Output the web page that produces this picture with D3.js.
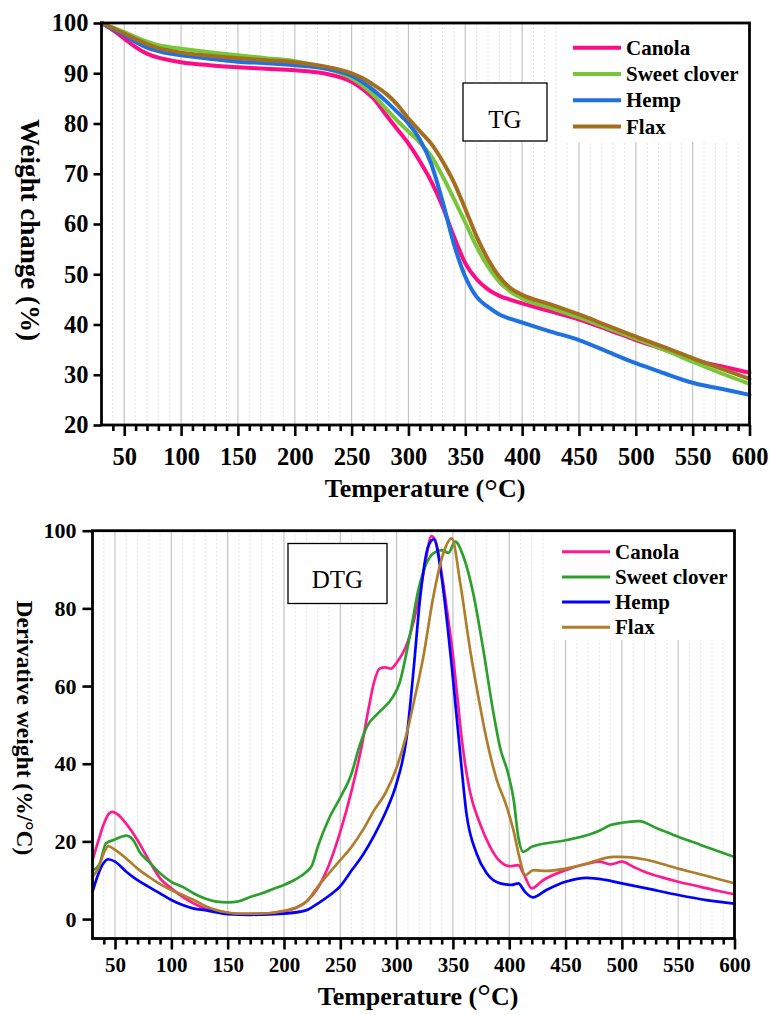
<!DOCTYPE html>
<html><head><meta charset="utf-8">
<script src="https://cdn.jsdelivr.net/npm/d3@7"></script>
<style>body{margin:0;background:#fff}svg{display:block}</style>
</head><body>
<script>
// ---------- DATA ----------
const seriesNames = ["Canola", "Sweet clover", "Hemp", "Flax"];
const xMajorTicks = [50,100,150,200,250,300,350,400,450,500,550,600];
const tgYTicks = [20,30,40,50,60,70,80,90,100];
const dtgYTicks = [0,20,40,60,80,100];

// TG (weight change %) — common temperature grid
const tgTemps = [30,40,50,60,70,80,90,100,125,150,175,200,225,250,260,270,280,290,300,310,320,330,340,350,360,370,380,390,400,425,450,475,500,525,550,575,600];
const tgCanola = [100,98.6,96.9,95.2,93.9,93.1,92.6,92.2,91.6,91.2,90.9,90.6,90.0,88.3,86.8,84.8,81.8,78.9,76.0,72.5,68.5,63.5,57.5,52.2,49.0,47.0,45.7,44.9,44.2,42.6,41.0,39.0,36.9,35.0,33.0,31.7,30.4];
const tgSweetClover = [100,99.1,98.2,97.2,96.3,95.6,95.2,94.9,94.2,93.6,93.0,92.4,91.2,89.0,87.5,85.5,83.0,80.6,78.4,76.2,73.5,69.5,65.0,60.3,55.5,51.5,48.5,46.5,45.2,43.3,41.4,39.3,37.2,35.0,32.6,30.3,28.2];
const tgHemp = [100,98.8,97.6,96.2,95.1,94.4,93.9,93.6,92.9,92.3,92.0,91.6,91.0,89.5,88.2,86.5,84.5,82.3,80.0,76.8,72.0,64.5,56.0,49.5,45.5,43.5,42.0,41.1,40.4,38.6,36.9,34.6,32.3,30.3,28.4,27.2,26.0];
const tgFlax = [100,99.0,97.9,96.8,95.8,95.0,94.5,94.1,93.5,93.0,92.6,92.2,91.4,90.0,89.0,87.6,86.0,83.8,81.0,78.5,76.0,72.5,68.3,63.0,57.5,53.0,49.5,47.2,45.9,44.0,42.0,39.8,37.6,35.5,33.3,31.2,29.2];

// DTG (derivative weight %/°C) — [temperature, value]
const dtgCanola = [[30,15.2],[35,20],[40,24.5],[45,27.3],[48,27.6],[52,27],[60,24.5],[70,20.3],[80,15.2],[90,10.5],[100,7.9],[110,5.7],[120,4],[130,2.7],[140,2],[150,1.6],[160,1.3],[180,1.4],[200,2],[210,2.8],[220,4.5],[230,8],[240,14],[250,22.5],[260,33],[270,46],[275,54],[280,61],[285,64.5],[290,64.8],[295,64.5],[300,66],[310,71.5],[320,83],[325,91],[331,98.6],[335,97],[340,89],[345,79],[350,68],[354,57],[358,46],[365,33],[374,24.6],[383,18.6],[392,14.8],[401,13.6],[408,13.9],[413,11.5],[420,7.9],[430,10],[450,12.6],[470,14.3],[480,14.8],[490,14.1],[500,14.8],[510,13.5],[520,12.2],[535,10.8],[550,9.6],[570,8.3],[585,7.3],[600,6.4]];
const dtgSweetClover = [[30,12.5],[36,14],[42,19.5],[50,20.5],[60,21.5],[67,20],[72,17.2],[80,14.8],[90,11.8],[100,9.6],[110,8.3],[120,6.6],[130,5.3],[140,4.5],[150,4.3],[160,4.6],[170,5.7],[180,6.6],[190,7.7],[200,8.8],[210,10.2],[220,12.2],[225,13.9],[230,18.6],[240,25.9],[250,31.3],[260,37.5],[267,44.5],[273.5,49.5],[285,53.4],[296.7,57.2],[302.5,60.7],[311,71.8],[320,85.6],[332.6,94.2],[340,95],[346,94.3],[352,97.2],[359.4,93.3],[368,83.9],[377,69.3],[386,53],[392,44],[399,37.5],[404,30.6],[408,21.2],[412.6,17.3],[420,18.6],[450,20.3],[469,21.6],[481,22.9],[490,24.2],[500,24.8],[515,25.2],[531,23.4],[550,21.2],[570,19.1],[600,16]];
const dtgHemp = [[30,7],[35,11.5],[40,14.5],[44,15.4],[50,14.8],[60,12.2],[70,10],[80,8.3],[90,6.6],[100,4.9],[110,3.6],[120,2.7],[130,2.3],[150,1.3],[170,1.1],[200,1.4],[220,2.3],[230,4],[240,6],[250,8.5],[260,12.5],[270,16.5],[280,21.5],[291,28],[300,35],[309,47],[315,64],[321,83],[328,95.9],[333,97.8],[340,88],[345,76],[349,65],[353,53],[357,41],[362,27.2],[371,16.9],[380,11.8],[392,9.2],[402,8.8],[408,9.2],[414,7],[421,5.6],[433,7.5],[450,9.6],[469,10.6],[485,10.1],[500,9.2],[522,7.9],[550,6.2],[575,4.9],[600,4]];
const dtgFlax = [[30,10.9],[35,13],[40,17],[44,18.8],[50,17.8],[60,15.6],[70,13],[80,10.9],[90,9],[100,7.5],[110,6.2],[120,4.9],[130,3.4],[140,2.3],[150,1.7],[160,1.4],[180,1.4],[200,2.1],[210,2.9],[220,4.5],[230,8.3],[240,11.8],[250,15.2],[260,18.6],[270,22.9],[280,28],[290,32.4],[300,39],[309,47.8],[315,55.5],[323.7,67.5],[332.6,83],[341.5,94.2],[349,98],[356.5,86.5],[365.3,69.3],[374.2,54.7],[380,46.1],[389,35.8],[397.8,28.9],[403.7,22.9],[409.6,15.2],[414,11.3],[421.5,12.6],[433.4,12.4],[450,13],[469,14.3],[481,15.4],[492.5,16],[500,16],[519,15.4],[550,13],[575.5,11.1],[600,9.2]];

const tgColors = ["#fc0d86", "#78c63a", "#1f70e0", "#a36e1d"];
const dtgColors = ["#ff1a8f", "#2ca02c", "#0000ff", "#b07d2b"];

// ---------- DRAW ----------
const FONT = "'Liberation Serif','Times New Roman',serif";
const svg = d3.select("body").append("svg").attr("width", 769).attr("height", 1015)
  .style("font-family", FONT);

function panel(o) {
  const x = d3.scaleLinear().domain([30, 600]).range([o.left, o.right]);
  const y = d3.scaleLinear().domain(o.yDomain).range([o.bottom, o.top]);
  const g = svg.append("g");

  const minor = d3.range(40, 601, 10).filter(v => v % 50 !== 0);
  // grid
  g.append("g").selectAll("line").data(minor).join("line")
    .attr("x1", d => x(d)).attr("x2", d => x(d)).attr("y1", o.top).attr("y2", o.bottom)
    .attr("stroke", "#dcdcdc").attr("stroke-width", 0.8).attr("stroke-dasharray", "2,2");
  g.append("g").selectAll("line").data(xMajorTicks.filter(d => d < 600)).join("line")
    .attr("x1", d => x(d)).attr("x2", d => x(d)).attr("y1", o.top).attr("y2", o.bottom)
    .attr("stroke", "#c4c4c4").attr("stroke-width", 1.2);

  // legend background
  g.append("rect").attr("x", o.legend.bgX).attr("y", o.top + 1.5)
    .attr("width", o.right - o.legend.bgX - 1.5).attr("height", o.legend.bgY - o.top - 1.5)
    .attr("fill", "#fff");

  // lines
  const line = d3.line().x(d => x(d[0])).y(d => y(d[1])).curve(d3.curveMonotoneX);
  o.series.forEach((s, i) => {
    g.append("path").datum(s).attr("d", line).attr("fill", "none")
      .attr("stroke", o.colors[i]).attr("stroke-width", o.lw)
      .attr("stroke-linejoin", "round").attr("stroke-linecap", "round");
  });

  // axes
  const axB = g.append("g").attr("transform", `translate(0,${o.bottom})`)
    .call(d3.axisBottom(x).tickValues(xMajorTicks).tickSize(11).tickPadding(o.xPad).tickFormat(d3.format("d")));
  const axBm = g.append("g").attr("transform", `translate(0,${o.bottom})`)
    .call(d3.axisBottom(x).tickValues(minor).tickSize(6).tickFormat(""));
  const axL = g.append("g").attr("transform", `translate(${o.left},0)`)
    .call(d3.axisLeft(y).tickValues(o.yTicks).tickSize(o.yTick).tickPadding(o.yPad).tickFormat(d3.format("d")));
  [axB, axBm, axL].forEach(a => {
    a.select(".domain").remove();
    a.selectAll(".tick line").attr("stroke", "#000").attr("stroke-width", 2.6);
    a.selectAll("text").attr("fill", "#000").style("font-family", FONT).style("font-weight", "bold");
  });
  axB.selectAll("text").style("font-size", o.xFont + "px");
  axL.selectAll("text").style("font-size", o.yFont + "px");

  // frame
  g.append("rect").attr("x", o.left).attr("y", o.top).attr("width", o.right - o.left)
    .attr("height", o.bottom - o.top).attr("fill", "none").attr("stroke", "#000").attr("stroke-width", 2.8);

  // label box
  g.append("rect").attr("x", o.box.x).attr("y", o.box.y).attr("width", o.box.w).attr("height", o.box.h)
    .attr("fill", "#fff").attr("stroke", "#000").attr("stroke-width", 1.3);
  g.append("text").attr("x", o.box.x + o.box.w / 2).attr("y", o.box.base).attr("text-anchor", "middle")
    .style("font-size", "25px").text(o.box.text);

  // legend
  seriesNames.forEach((n, i) => {
    const yy = o.legend.y0 + i * o.legend.dy;
    g.append("line").attr("x1", o.legend.x1).attr("x2", o.legend.x2).attr("y1", yy).attr("y2", yy)
      .attr("stroke", o.colors[i]).attr("stroke-width", o.legend.lw);
    g.append("text").attr("x", o.legend.tx).attr("y", yy + 7).style("font-size", "21px")
      .style("font-weight", "bold").text(n);
  });

  // x title
  const xt = g.append("text").attr("x", o.xTitleX).attr("y", o.xTitleY).attr("text-anchor", "middle")
    .style("font-size", "26px").style("font-weight", "bold");
  xt.append("tspan").text("Temperature (");
  xt.append("tspan").attr("dy", o.degDy).style("font-size", "34px").style("font-weight", "normal").text("°");
  xt.append("tspan").attr("dy", -o.degDy).text("C)");

  // y title
  g.append("text").attr("transform", `translate(${o.yTitleX},${o.yTitleY}) rotate(90)`)
    .attr("text-anchor", "middle").style("font-size", o.yTitleFont + "px").style("font-weight", "bold")
    .text(o.yTitle);
}

panel({
  left: 101.5, right: 749.5, top: 23, bottom: 425, yDomain: [20, 100], yTicks: tgYTicks,
  series: [tgCanola, tgSweetClover, tgHemp, tgFlax].map(a => a.map((v, i) => [tgTemps[i], v])),
  colors: tgColors, lw: 4, xPad: 12, xFont: 24.5, yTick: 8, yPad: 5, yFont: 24.5,
  box: {x: 463, y: 83, w: 84, h: 58, base: 127.5, text: "TG"},
  legend: {bgX: 566, bgY: 142, x1: 573, x2: 621, tx: 626, y0: 47.7, dy: 26.3, lw: 4},
  xTitleX: 425, xTitleY: 497, degDy: 5,
  yTitle: "Weight change (%)", yTitleX: 21, yTitleY: 230, yTitleFont: 27
});

panel({
  left: 92.5, right: 734.5, top: 530.7, bottom: 938.5, yDomain: [-5, 100], yTicks: dtgYTicks,
  series: [dtgCanola, dtgSweetClover, dtgHemp, dtgFlax],
  colors: dtgColors, lw: 2.7, xPad: 8, xFont: 21, yTick: 10, yPad: 6, yFont: 22,
  box: {x: 288, y: 543.5, w: 99, h: 60, base: 588, text: "DTG"},
  legend: {bgX: 552, bgY: 640, x1: 562, x2: 610, tx: 615, y0: 551.7, dy: 25.2, lw: 3},
  xTitleX: 418, xTitleY: 1005, degDy: 2,
  yTitle: "Derivative weight (%/°C)", yTitleX: 17, yTitleY: 728, yTitleFont: 23.5
});
</script>
</body></html>
